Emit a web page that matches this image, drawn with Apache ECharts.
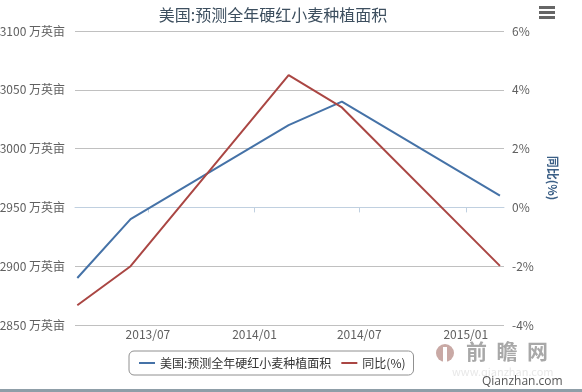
<!DOCTYPE html>
<html>
<head>
<meta charset="utf-8">
<script src="https://cdn.jsdelivr.net/npm/echarts@6/dist/echarts.min.js"></script>
<style>
html,body{margin:0;padding:0;background:#fff;}
#chart{width:582px;height:392px;}
</style>
</head>
<body>
<div id="chart"></div>
<script>
// ---- data ----
var dates = ['2013-03-01', '2013-06-01', '2014-03-01', '2014-06-01', '2015-03-01'];
var areaValues = [2890, 2940, 3020, 3040, 2960];
var yoyValues = [-3.33, -2.0, 4.5, 3.4, -1.99];
var xTickDates = ['2013-07-01', '2014-01-01', '2014-07-01', '2015-01-01'];
var seriesNames = ['美国:预测全年硬红小麦种植面积', '同比(%)'];
var titleText = '美国:预测全年硬红小麦种植面积';

function ts(s) { var p = s.split('-'); return Date.UTC(+p[0], +p[1] - 1, +p[2]); }
function pad(n) { return n < 10 ? '0' + n : '' + n; }

var areaData = dates.map(function (d, i) { return [ts(d), areaValues[i]]; });
var yoyData = dates.map(function (d, i) { return [ts(d), yoyValues[i]]; });
var tickVals = xTickDates.map(ts);

var FONT = '"Noto Sans CJK SC", "Noto Sans", sans-serif';

var chart = echarts.init(document.getElementById('chart'), null, { renderer: 'canvas' });
chart.setOption({
  animation: false,
  backgroundColor: '#ffffff',
  textStyle: { fontFamily: FONT },
  title: {
    text: titleText,
    left: 268,
    top: 2,
    textAlign: 'center',
    textStyle: { fontSize: 16, fontWeight: 'normal', color: '#3d4f5f', fontFamily: FONT }
  },
  legend: {
    data: seriesNames,
    left: 129,
    top: 351,
    padding: [6, 8, 6, 10],
    itemGap: 10,
    itemWidth: 16,
    itemHeight: 2,
    icon: 'rect',
    borderColor: '#909090',
    borderWidth: 1,
    borderRadius: 5,
    textStyle: { fontSize: 12, color: '#333333', fontFamily: FONT }
  },
  grid: { left: 75, right: 78, top: 31, bottom: 67, containLabel: false, outerBoundsMode: 'none' },
  xAxis: {
    type: 'value',
    min: ts('2013-02-25'),
    max: ts('2015-03-08'),
    axisLine: { show: true, lineStyle: { color: '#C0D0E0', width: 1 } },
    axisTick: { show: true, length: 5, lineStyle: { color: '#C0D0E0' }, customValues: tickVals },
    axisLabel: {
      customValues: tickVals,
      margin: 3,
      fontSize: 12,
      color: '#606060',
      fontFamily: FONT,
      formatter: function (v) { var d = new Date(v); return d.getUTCFullYear() + '/' + pad(d.getUTCMonth() + 1); }
    },
    splitLine: { show: false }
  },
  yAxis: [
    {
      type: 'value',
      min: 2850,
      max: 3100,
      interval: 50,
      axisLine: { show: false },
      axisTick: { show: false },
      axisLabel: { margin: 10, fontSize: 12, color: '#606060', fontFamily: FONT, formatter: function (v) { return v + ' 万英亩'; } },
      splitLine: { show: true, lineStyle: { color: '#C0C0C0', width: 1 } }
    },
    {
      type: 'value',
      min: -4,
      max: 6,
      interval: 2,
      position: 'right',
      name: '同比(%)',
      nameLocation: 'middle',
      nameRotate: -90,
      nameGap: 43,
      nameTextStyle: { color: '#3b5f86', fontSize: 12, fontWeight: 'bold', fontFamily: FONT },
      axisLine: { show: false },
      axisTick: { show: false },
      axisLabel: { margin: 8, fontSize: 12, color: '#606060', fontFamily: FONT, formatter: function (v) { return v + '%'; } },
      splitLine: { show: false }
    }
  ],
  series: [
    {
      name: seriesNames[0],
      type: 'line',
      yAxisIndex: 0,
      data: areaData,
      symbol: 'none',
      showSymbol: false,
      lineStyle: { color: '#4572A7', width: 2 },
      itemStyle: { color: '#4572A7' }
    },
    {
      name: seriesNames[1],
      type: 'line',
      yAxisIndex: 1,
      data: yoyData,
      symbol: 'none',
      showSymbol: false,
      lineStyle: { color: '#AA4643', width: 2 },
      itemStyle: { color: '#AA4643' }
    }
  ],
  graphic: [
    { type: 'rect', shape: { x: 539, y: 6, width: 16, height: 3 }, style: { fill: '#666666' } },
    { type: 'rect', shape: { x: 539, y: 11, width: 16, height: 3 }, style: { fill: '#666666' } },
    { type: 'rect', shape: { x: 539, y: 16, width: 16, height: 3 }, style: { fill: '#666666' } },
    { type: 'circle', shape: { cx: 445, cy: 353, r: 9 }, style: { fill: '#c9a9a5' } },
    { type: 'rect', shape: { x: 443, y: 347, width: 4, height: 16 }, style: { fill: '#ffffff' } },
    { type: 'text', x: 466, y: 341, style: { text: '前  瞻  网', fontSize: 21, fontWeight: 'bold', fill: '#a8a8a8', fontFamily: FONT } },
    { type: 'text', x: 452, y: 366, style: { text: 'www.qianzhan.com', fontSize: 11, fill: '#e8e8e8', fontFamily: FONT } },
    { type: 'text', x: 482, y: 376, style: { text: 'Qianzhan.com', fontSize: 12, fill: '#555555', fontFamily: '"Open Sans", sans-serif' } },
    { type: 'rect', shape: { x: 0, y: 389, width: 582, height: 3 }, style: { fill: '#8f9ea8' } }
  ]
});
</script>
</body>
</html>
